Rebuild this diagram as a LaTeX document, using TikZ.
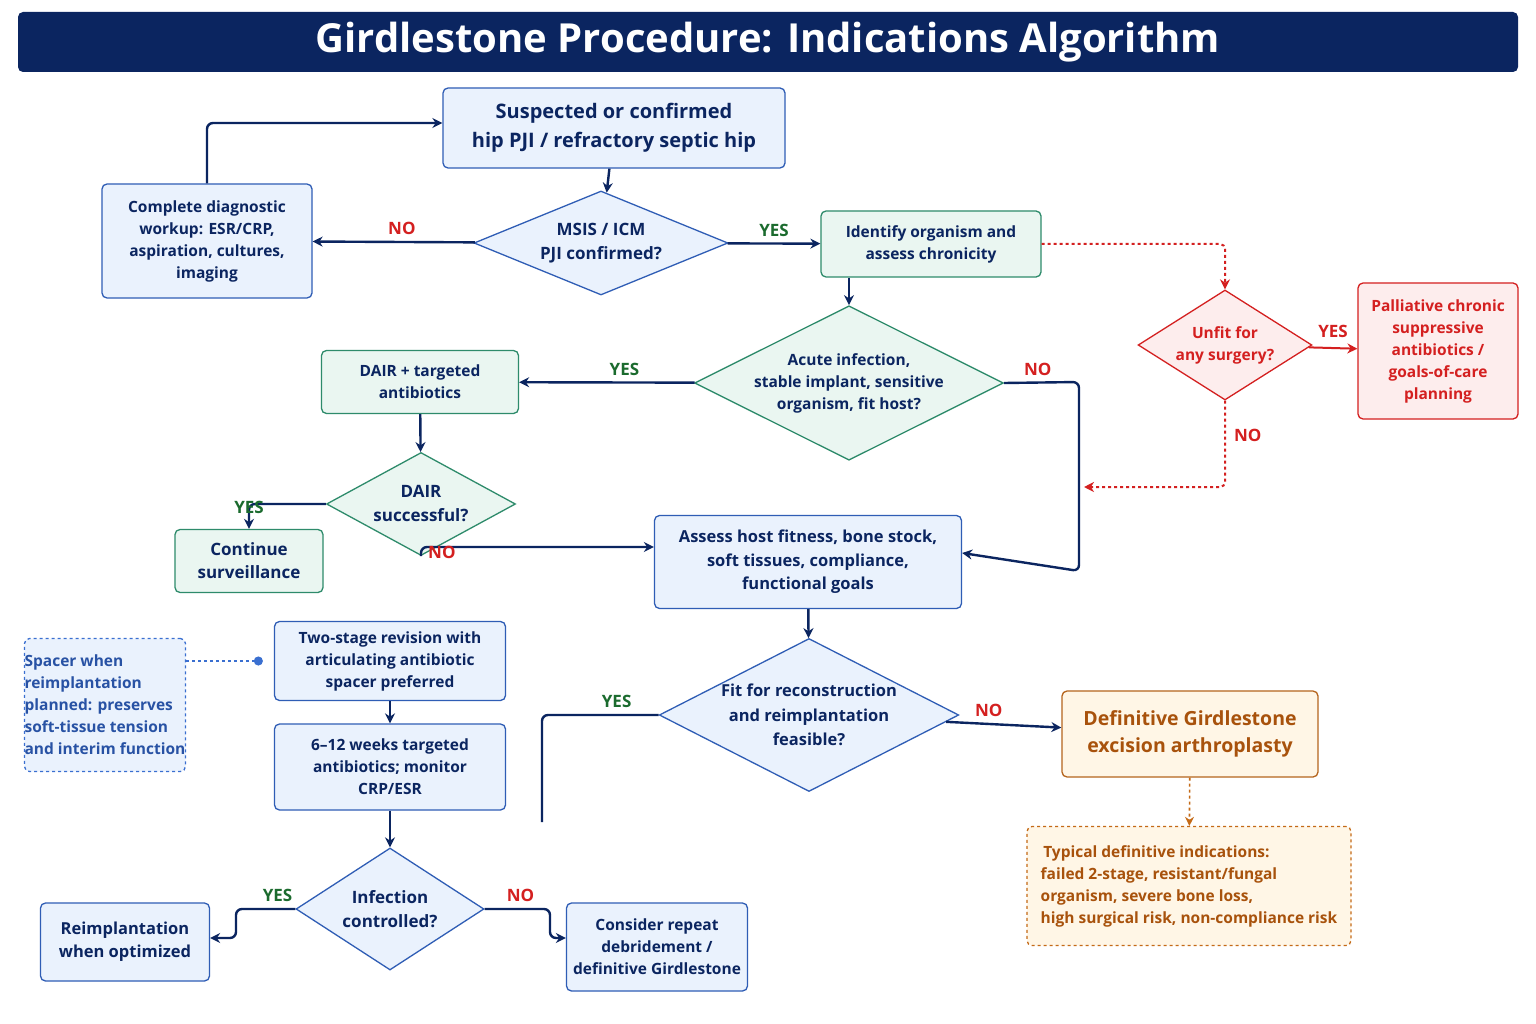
\documentclass[tikz,border=0pt]{standalone}
\usepackage{fontspec}
\setmainfont{Open Sans}
\usetikzlibrary{shapes.geometric,arrows.meta}
\definecolor{navy}{HTML}{0B2560}
\definecolor{bfill}{HTML}{EAF2FD}
\definecolor{bdraw}{HTML}{2F5DB5}
\definecolor{gfill}{HTML}{EAF6F1}
\definecolor{gdraw}{HTML}{2E8B6B}
\definecolor{gtext}{HTML}{1B6B2E}
\definecolor{rfill}{HTML}{FDEDED}
\definecolor{rdraw}{HTML}{D42020}
\definecolor{ofill}{HTML}{FFF6E6}
\definecolor{odraw}{HTML}{B5651D}
\definecolor{otext}{HTML}{A8520C}
\definecolor{ldraw}{HTML}{3A6FD0}
\begin{document}
\begin{tikzpicture}[x=1pt,y=-1pt,
 every node/.style={font=\bfseries, align=center, inner sep=0pt},
 box/.style={rectangle, rounded corners=5pt, line width=1.3pt},
 bbox/.style={box, fill=bfill, draw=bdraw, text=navy},
 gbox/.style={box, fill=gfill, draw=gdraw, text=navy},
 dia/.style={diamond, line width=1.3pt, aspect=2},
 bdia/.style={dia, fill=bfill, draw=bdraw, text=navy},
 gdia/.style={dia, fill=gfill, draw=gdraw, text=navy},
 fs/.style={font=\bfseries\fontsize{15.5}{22}\selectfont},
 arr/.style={line width=2.4pt, navy, rounded corners=6pt, -{Stealth[length=10pt,width=10pt]}},
 rarr/.style={line width=2pt, rdraw, rounded corners=5pt, -{Stealth[length=10pt,width=10pt]}},
 yes/.style={text=gtext, font=\bfseries\fontsize{17}{20}\selectfont},
 no/.style={text=rdraw, font=\bfseries\fontsize{17}{20}\selectfont}]
\useasboundingbox (0,0) rectangle (1536,1024);
\fill[white] (0,0) rectangle (1536,1024);
\node[box, fill=navy, minimum width=1500pt, minimum height=60pt, text=white, font=\bfseries\fontsize{40}{44}\selectfont] (title) at (768,42) {Girdlestone Procedure: Indications Algorithm};

\node[bbox, minimum width=342pt, minimum height=80pt, font=\bfseries\fontsize{20}{29}\selectfont] (A) at (614,128) {Suspected or confirmed\\hip PJI / refractory septic hip};
\node[bdia, minimum width=254pt, minimum height=104pt, font=\bfseries\fontsize{17}{24}\selectfont] (B) at (601,243) {MSIS / ICM\\PJI confirmed?};
\node[bbox, minimum width=210pt, minimum height=114pt, fs] (C) at (207,241) {Complete diagnostic\\workup: ESR/CRP,\\aspiration, cultures,\\imaging};
\node[gbox, minimum width=220pt, minimum height=66pt, fs] (D) at (931,244) {Identify organism and\\assess chronicity};
\node[gdia, minimum width=296pt, minimum height=133pt, fs] (E) at (849,383) {Acute infection,\\stable implant, sensitive\\organism, fit host?};
\node[gbox, minimum width=197pt, minimum height=63pt, fs] (F) at (420,382) {DAIR + targeted\\antibiotics};
\node[gdia, minimum width=189pt, minimum height=103pt, font=\bfseries\fontsize{17}{24}\selectfont] (G) at (421,504) {DAIR\\successful?};
\node[gbox, minimum width=148pt, minimum height=63pt, font=\bfseries\fontsize{17}{23}\selectfont] (H) at (249,561) {Continue\\surveillance};
\node[bbox, minimum width=307pt, minimum height=93pt, font=\bfseries\fontsize{16.5}{23.5}\selectfont] (I) at (808,562) {Assess host fitness, bone stock,\\soft tissues, compliance,\\functional goals};
\node[bdia, minimum width=261pt, minimum height=153pt, font=\bfseries\fontsize{16.5}{24.5}\selectfont] (J) at (809,715) {Fit for reconstruction\\and reimplantation\\feasible?};
\node[box, fill=ofill, draw=odraw, text=otext, minimum width=256pt, minimum height=86pt, font=\bfseries\fontsize{19.5}{27}\selectfont] (K) at (1190,734) {Definitive Girdlestone\\excision arthroplasty};
\node[box, dashed, fill=ofill, draw=odraw!80!orange, text=otext, minimum width=324pt, minimum height=119pt, align=left, fs] (L) at (1189,886) {\,Typical definitive indications:\\failed 2-stage, resistant/fungal\\organism, severe bone loss,\\high surgical risk, non-compliance risk};
\node[dia, fill=rfill, draw=rdraw, text=rdraw, minimum width=168pt, minimum height=110pt, fs] (M) at (1225,345) {Unfit for\\any surgery?};
\node[box, fill=rfill, draw=rdraw, text=rdraw, minimum width=160pt, minimum height=136pt, fs] (N) at (1438,351) {Palliative chronic\\suppressive\\antibiotics /\\goals-of-care\\planning};
\node[bbox, minimum width=231pt, minimum height=79pt, fs] (O) at (390,661) {Two-stage revision with\\articulating antibiotic\\spacer preferred};
\node[box, dashed, fill=bfill, draw=ldraw, text=bdraw!80!navy, minimum width=161pt, minimum height=133pt, align=left, fs] (P) at (105,705) {Spacer when\\reimplantation\\planned: preserves\\soft-tissue tension\\and interim function};
\node[bbox, minimum width=231pt, minimum height=86pt, fs] (Q) at (390,767) {6–12 weeks targeted\\antibiotics; monitor\\CRP/ESR};
\node[bdia, minimum width=188pt, minimum height=122pt, font=\bfseries\fontsize{17}{24}\selectfont] (R) at (390,909) {Infection\\controlled?};
\node[bbox, minimum width=169pt, minimum height=78pt, font=\bfseries\fontsize{16.5}{23}\selectfont] (S) at (125,942) {Reimplantation\\when optimized};
\node[bbox, minimum width=181pt, minimum height=88pt, fs] (T) at (657,947) {Consider repeat\\debridement /\\definitive Girdlestone};

\coordinate (Jend) at (542,822);
\coordinate (Iin) at (1084,487);

\draw[arr] (C.north) |- ([yshift=5pt]A.west);
\draw[arr] (A) -- (B);
\draw[arr] (B) -- (C) node[no, pos=0.45, above=6pt] {NO};
\draw[arr] (B) -- (D) node[yes, pos=0.5, above=6pt] {YES};
\draw[arr] (D.south -| E.north) -- (E.north);
\draw[arr] (E) -- (F) node[yes, pos=0.4, above=6pt] {YES};
\draw[arr] (E.east) -- (1079,382) node[no, pos=0.45, above=6pt] {NO} -- (1079,571) -- ([yshift=9pt]I.east);
\draw[arr] (F) -- (G);
\draw[arr] (G.west) -| (H.north) node[yes, pos=0.75, above=2pt] {YES};
\draw[arr] (G.south) |- ([yshift=15pt]I.west) node[no, pos=0.18, right=6pt] {NO};
\draw[rarr, dashed] (D.east) -| (M.north);
\draw[rarr] (M) -- (N) node[pos=0.5, above=9pt, no] {YES};
\draw[rarr, dashed] (M.south) |- (Iin) node[no, pos=0.2, right=8pt] {NO};
\draw[arr] (I) -- (J);
\draw[arr] (J) -- (K) node[no, pos=0.37, above=6pt] {NO};
\draw[line width=2.4pt, navy, rounded corners=6pt] (J.west) -| (Jend) node[yes, pos=0.18, above=6pt] {YES};
\draw[line width=1.6pt, odraw!80!orange, dashed, -{Stealth[length=9pt,width=9pt]}] (K) -- (L);
\draw[line width=1.5pt, ldraw, dashed, -{Circle[length=9pt]}] (P.east |- O) -- ([xshift=-11pt]O.west);
\draw[arr] (O) -- (Q);
\draw[arr] (Q) -- (R);
\draw[arr] (R.west) -- (236,909) node[yes, pos=0.3, above=6pt] {YES} -- (236,938) -- (S.east |- 0,938);
\draw[arr] (R.east) -- (550,909) node[no, pos=0.55, above=6pt] {NO} -- (550,938) -- (T.west |- 0,938);
\end{tikzpicture}
\end{document}
